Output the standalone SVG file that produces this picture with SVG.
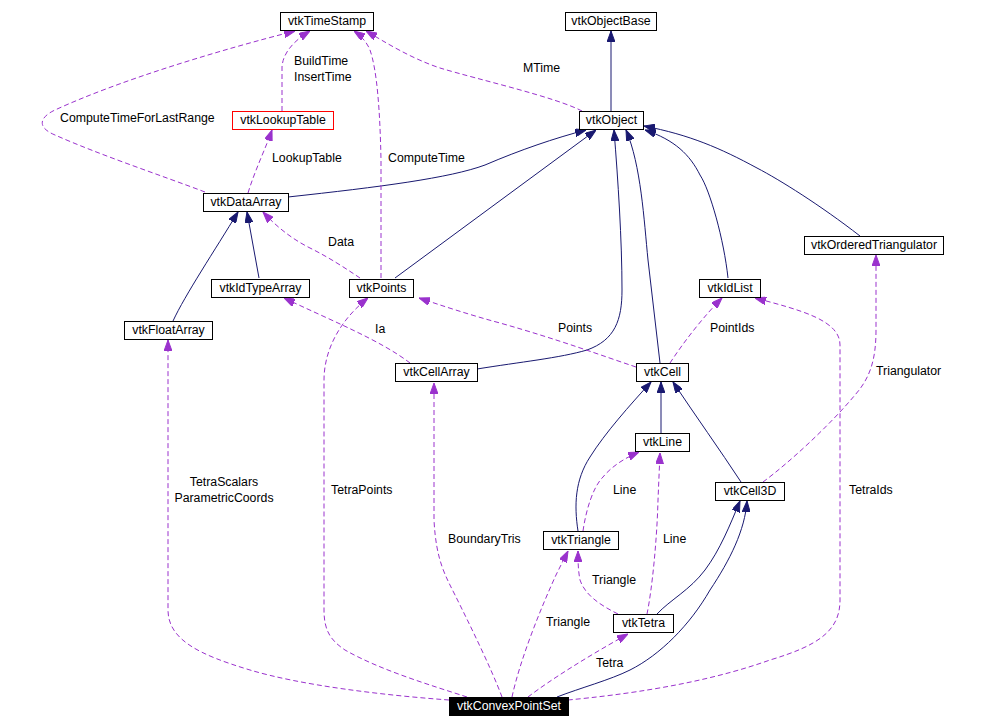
<svg xmlns="http://www.w3.org/2000/svg" width="985" height="728" viewBox="0 0 985 728">
<style>
text{font-family:"Liberation Sans",Arial,sans-serif;font-size:12.3px;fill:#000}
.n rect{fill:#fff;stroke:#000;stroke-width:1}
.n text{text-anchor:middle}
.inh{fill:none;stroke:#191970;stroke-width:1}
.use{fill:none;stroke:#9a32cd;stroke-width:1;stroke-dasharray:5,3}
</style>
<defs>
<marker id="ai" viewBox="0 0 11 8" refX="11" refY="4" markerWidth="11" markerHeight="8" markerUnits="userSpaceOnUse" orient="auto"><path d="M0,0 L11,4 L0,8 z" fill="#191970" stroke="#191970" stroke-width="1"/></marker>
<marker id="au" viewBox="0 0 11 8" refX="11" refY="4" markerWidth="11" markerHeight="8" markerUnits="userSpaceOnUse" orient="auto"><path d="M0,0 L11,4 L0,8 z" fill="#9a32cd" stroke="#9a32cd" stroke-width="1"/></marker>
</defs>
<g id="edges">
<path class="inh" marker-end="url(#ai)" d="M611,111 L611,31"/>
<path class="inh" marker-end="url(#ai)" d="M288,197 C380,187 450,178 485,165 C520,150 555,138 586,130"/>
<path class="inh" marker-end="url(#ai)" d="M395,278 L596,130"/>
<path class="inh" marker-end="url(#ai)" d="M477,369 C520,362 560,358 587,350 C615,340 622,320 622,290 C622,240 618,180 614,130"/>
<path class="inh" marker-end="url(#ai)" d="M660,363 L648,260 C644,220 641,165 626,130"/>
<path class="inh" marker-end="url(#ai)" d="M728,278 C724,240 710,190 700,175 C690,155 675,140 645,130"/>
<path class="inh" marker-end="url(#ai)" d="M860,236 C820,205 780,180 757,168 C720,148 690,135 644,126"/>
<path class="inh" marker-end="url(#ai)" d="M173,321 C185,295 215,250 238,212"/>
<path class="inh" marker-end="url(#ai)" d="M259,278 L247,212"/>
<path class="inh" marker-end="url(#ai)" d="M661,433 L661,382"/>
<path class="inh" marker-end="url(#ai)" d="M578,531 C574,505 575,480 590,457 C605,433 630,405 651,382"/>
<path class="inh" marker-end="url(#ai)" d="M741,482 C720,450 695,415 673,382"/>
<path class="inh" marker-end="url(#ai)" d="M657,614 C670,600 690,590 705,570 C720,550 730,525 740,501"/>
<path class="inh" marker-end="url(#ai)" d="M557,697 C580,688 610,680 630,670 C660,655 690,625 710,590 C730,560 745,530 747,501"/>
<path class="use" marker-end="url(#au)" d="M282,111 L282,67 C283,52 295,40 310,31"/>
<path class="use" marker-end="url(#au)" d="M205,192 C160,175 100,155 55,135 C38,128 38,118 55,110 C120,80 220,50 295,31"/>
<path class="use" marker-end="url(#au)" d="M381,278 L381,160 C380,110 377,70 370,50 C367,42 360,35 354,31"/>
<path class="use" marker-end="url(#au)" d="M582,111 C555,97 480,80 440,68 C410,58 385,42 366,31"/>
<path class="use" marker-end="url(#au)" d="M248,193 C255,170 265,150 272,130"/>
<path class="use" marker-end="url(#au)" d="M360,278 C345,268 330,258 310,248 C290,238 275,225 263,212"/>
<path class="use" marker-end="url(#au)" d="M410,363 C380,340 330,320 284,298"/>
<path class="use" marker-end="url(#au)" d="M636,367 C600,355 560,340 500,323 C470,315 440,305 419,298"/>
<path class="use" marker-end="url(#au)" d="M670,363 C685,340 705,315 722,298"/>
<path class="use" marker-end="url(#au)" d="M763,482 C790,462 830,425 855,395 C870,378 876,360 876,330 L876,255"/>
<path class="use" marker-end="url(#au)" d="M568,700 C620,695 700,685 770,660 C820,645 840,630 840,600 L840,345 C840,320 800,310 755,298"/>
<path class="use" marker-end="url(#au)" d="M449,700 C380,695 300,685 250,670 C200,655 168,640 168,610 L168,340"/>
<path class="use" marker-end="url(#au)" d="M467,697 C430,685 380,670 345,650 C330,640 324,630 324,610 L324,380 C324,350 340,320 368,298"/>
<path class="use" marker-end="url(#au)" d="M502,697 C492,670 470,625 455,595 C445,575 436,560 434,520 L434,383"/>
<path class="use" marker-end="url(#au)" d="M512,697 C520,660 540,610 556,575 L568,551"/>
<path class="use" marker-end="url(#au)" d="M528,697 C550,680 590,655 628,634"/>
<path class="use" marker-end="url(#au)" d="M618,614 C600,605 585,595 580,580 C578,570 578,560 578,551"/>
<path class="use" marker-end="url(#au)" d="M647,614 C652,590 657,540 658,500 L660,453"/>
<path class="use" marker-end="url(#au)" d="M583,531 C586,510 593,487 603,477 C612,466 625,458 639,452"/>
</g>
<g id="labels">
<text x="294" y="65">BuildTime</text>
<text x="294" y="81">InsertTime</text>
<text x="60" y="122">ComputeTimeForLastRange</text>
<text x="272" y="162">LookupTable</text>
<text x="388" y="162">ComputeTime</text>
<text x="523" y="72">MTime</text>
<text x="328" y="246">Data</text>
<text x="375" y="333">Ia</text>
<text x="558" y="332">Points</text>
<text x="710" y="332">PointIds</text>
<text x="876" y="375">Triangulator</text>
<text x="849" y="494">TetraIds</text>
<text x="224" y="486" text-anchor="middle">TetraScalars</text>
<text x="224" y="502" text-anchor="middle">ParametricCoords</text>
<text x="331" y="494">TetraPoints</text>
<text x="448" y="543">BoundaryTris</text>
<text x="613" y="494">Line</text>
<text x="663" y="543">Line</text>
<text x="592" y="584">Triangle</text>
<text x="546" y="626">Triangle</text>
<text x="596" y="667">Tetra</text>
</g>
<g id="vtkTimeStamp" class="n"><rect x="280.5" y="12.5" width="93" height="18"/><text x="327" y="25">vtkTimeStamp</text></g>
<g id="vtkObjectBase" class="n"><rect x="565.5" y="12.5" width="91" height="18"/><text x="611" y="25">vtkObjectBase</text></g>
<g id="vtkObject" class="n"><rect x="579.5" y="111.5" width="64" height="18"/><text x="611.5" y="124">vtkObject</text></g>
<g id="vtkLookupTable" class="n"><rect x="232.5" y="111.5" width="101" height="18" style="stroke:#ff0000"/><text x="283" y="124">vtkLookupTable</text></g>
<g id="vtkDataArray" class="n"><rect x="203.5" y="193.5" width="85" height="18"/><text x="246" y="206">vtkDataArray</text></g>
<g id="vtkOrderedTriangulator" class="n"><rect x="804.5" y="236.5" width="139" height="18"/><text x="874" y="249">vtkOrderedTriangulator</text></g>
<g id="vtkIdList" class="n"><rect x="699.5" y="279.5" width="61" height="18"/><text x="730" y="292">vtkIdList</text></g>
<g id="vtkIdTypeArray" class="n"><rect x="211.5" y="279.5" width="98" height="18"/><text x="260.5" y="292">vtkIdTypeArray</text></g>
<g id="vtkPoints" class="n"><rect x="349.5" y="279.5" width="64" height="18"/><text x="381.5" y="292">vtkPoints</text></g>
<g id="vtkFloatArray" class="n"><rect x="124.5" y="321.5" width="88" height="18"/><text x="168.5" y="334">vtkFloatArray</text></g>
<g id="vtkCellArray" class="n"><rect x="395.5" y="363.5" width="82" height="18"/><text x="436.5" y="376">vtkCellArray</text></g>
<g id="vtkCell" class="n"><rect x="636.5" y="363.5" width="52" height="18"/><text x="662.5" y="376">vtkCell</text></g>
<g id="vtkLine" class="n"><rect x="635.5" y="433.5" width="54" height="18"/><text x="662.5" y="446">vtkLine</text></g>
<g id="vtkCell3D" class="n"><rect x="715.5" y="482.5" width="69" height="18"/><text x="750" y="495">vtkCell3D</text></g>
<g id="vtkTriangle" class="n"><rect x="543.5" y="531.5" width="75" height="18"/><text x="581" y="544">vtkTriangle</text></g>
<g id="vtkTetra" class="n"><rect x="613.5" y="614.5" width="60" height="18"/><text x="643.5" y="627">vtkTetra</text></g>
<g id="vtkConvexPointSet" class="n"><rect x="449.5" y="697.5" width="119" height="18" style="fill:#000"/><text x="509" y="710" style="fill:#fff">vtkConvexPointSet</text></g>
</svg>
